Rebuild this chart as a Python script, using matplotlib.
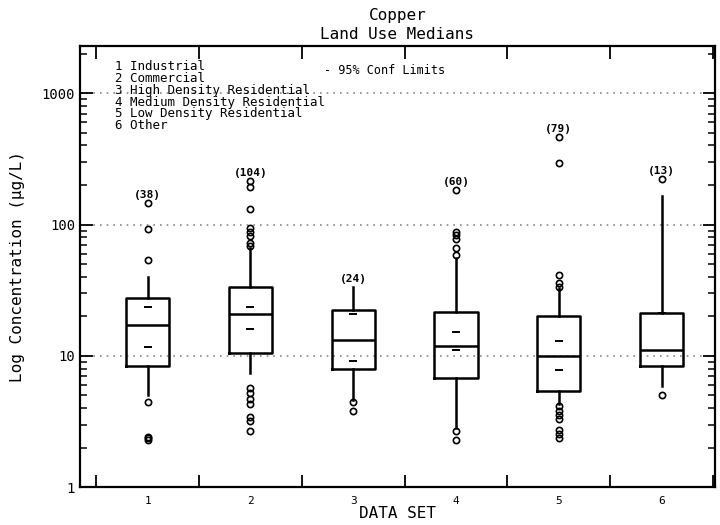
import numpy as np
import matplotlib
matplotlib.use("Agg")
import matplotlib.pyplot as plt
from matplotlib.ticker import FixedLocator, NullFormatter, LogLocator


# box stats (ug/L)
data_sets = [1, 2, 3, 4, 5, 6]
counts = [38, 104, 24, 60, 79, 13]
q1 = [8.3, 10.5, 7.9, 6.8, 5.4, 8.4]
medians = [17.1, 20.7, 13.2, 11.9, 10.0, 11.0]
q3 = [27.7, 33.6, 22.5, 21.5, 20.2, 21.3]
whisker_lo = [5.0, 7.4, 4.6, 2.8, 4.3, 5.9]
whisker_hi = [39.7, 66.0, 33.6, 56.0, 32.9, 166.0]
ci_lo = [11.7, 16.0, 9.1, 11.1, 7.8, np.nan]
ci_hi = [23.7, 23.6, 21.0, 15.1, 12.9, 21.3]
outliers = [
    [147, 92, 54, 4.45, 2.3, 2.35, 2.4],
    [215, 192, 132, 93.7, 88.3, 81.1, 72.3, 68.2, 5.66, 5.19, 4.66, 4.27, 3.43, 3.19, 2.68],
    [4.45, 3.79],
    [184, 88.3, 83.4, 77.9, 66.3, 58.4, 2.68, 2.30],
    [462, 295, 41.3, 35.6, 33.7, 4.15, 3.79, 3.53, 3.30, 2.73, 2.53, 2.39],
    [224, 5.04],
]
legend_lines = ["1 Industrial", "2 Commercial", "3 High Density Residential",
                "4 Medium Density Residential", "5 Low Density Residential", "6 Other"]

FONT = "DejaVu Sans Mono"


def main():
    plt.rcParams['font.family'] = FONT
    fig = plt.figure(figsize=(7.2, 5.25), dpi=100)
    ax = fig.add_axes([0.111, 0.072, 0.882, 0.841])

    stats = []
    for i in range(len(data_sets)):
        stats.append(dict(med=medians[i], q1=q1[i], q3=q3[i], whislo=whisker_lo[i],
                          whishi=whisker_hi[i], fliers=outliers[i], label=str(data_sets[i])))
    ax.bxp(stats, positions=data_sets, widths=0.42, showcaps=False,
           boxprops=dict(color='black', linewidth=1.8),
           whiskerprops=dict(color='black', linewidth=1.8),
           medianprops=dict(color='black', linewidth=1.8),
           flierprops=dict(marker='o', markersize=4.5, markerfacecolor='none',
                           markeredgecolor='black', markeredgewidth=1.2))

    # 95% confidence limit dashes
    ax.plot(data_sets, ci_lo, linestyle='none', marker='_', markersize=6, markeredgewidth=1.4, color='black')
    ax.plot(data_sets, ci_hi, linestyle='none', marker='_', markersize=6, markeredgewidth=1.4, color='black')

    # sample counts just above the highest point
    for i, n in enumerate(counts):
        top = max(outliers[i] + [whisker_hi[i]])
        ax.text(data_sets[i], top * 1.05, "(%d)" % n, ha='center', va='bottom',
                fontsize=8, fontweight='bold')

    ax.set_yscale('log')
    ax.set_ylim(1, 2300)
    ax.set_xlim(0.34, 6.52)
    for v in [10, 100, 1000]:
        ax.axhline(v, color='#888888', linestyle=(0, (1, 3)), linewidth=1.2, zorder=0)

    ax.yaxis.set_major_locator(FixedLocator([1, 10, 100, 1000]))
    ax.yaxis.set_minor_locator(LogLocator(base=10, subs=np.arange(2, 10)))
    ax.yaxis.set_minor_formatter(NullFormatter())
    ax.set_yticklabels(["1", "10", "100", "1000"])
    ax.set_xticks(data_sets)
    ax.set_xticklabels([str(d) for d in data_sets])
    ax.set_xticks(np.arange(0.5, 7.0, 1.0), minor=True)
    ax.tick_params(axis='x', which='major', length=0, labelsize=8, pad=6)
    ax.tick_params(axis='x', which='minor', direction='in', length=9, width=1.3, top=True, bottom=True)
    ax.tick_params(axis='y', which='major', direction='in', length=9, width=1.3,
                   left=True, right=True, labelsize=10)
    ax.tick_params(axis='y', which='minor', direction='in', length=5, width=1.1, left=True, right=True)
    for s in ax.spines.values():
        s.set_linewidth(1.6)

    # legend block in the upper left
    for k, line in enumerate(legend_lines):
        ax.text(0.055, 0.968 - k * 0.027, line, transform=ax.transAxes, fontsize=9, va='top')
    ax.text(0.385, 0.958, "- 95% Conf Limits", transform=ax.transAxes, fontsize=8.5, va='top')

    fig.text(0.552, 0.970, "Copper", ha='center', va='center', fontsize=11.5)
    fig.text(0.552, 0.935, "Land Use Medians", ha='center', va='center', fontsize=11.5)
    ax.set_xlabel("DATA SET", fontsize=11.5, labelpad=0)
    ax.set_ylabel("Log Concentration (\u00b5g/L)", fontsize=11.5, labelpad=12)

    fig.savefig("out.png", dpi=100)


if __name__ == "__main__":
    main()
